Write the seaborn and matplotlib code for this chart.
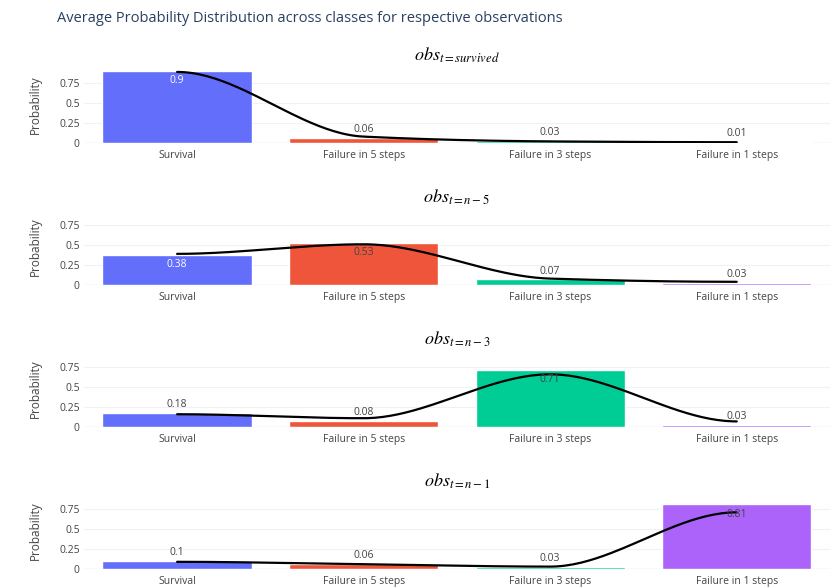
import matplotlib
matplotlib.use("Agg")
import matplotlib.pyplot as plt
import numpy as np
import pandas as pd
import seaborn as sns

# --- data ---
classes = ["Survival", "Failure in 5 steps", "Failure in 3 steps", "Failure in 1 steps"]
panel_titles = [
    r"$obs_{t=survived}$",
    r"$obs_{t=n-5}$",
    r"$obs_{t=n-3}$",
    r"$obs_{t=n-1}$",
]
bars_survived = [0.9, 0.06, 0.03, 0.01]
bars_n5 = [0.38, 0.53, 0.07, 0.03]
bars_n3 = [0.18, 0.08, 0.71, 0.03]
bars_n1 = [0.1, 0.06, 0.03, 0.81]

# black smoothed line sits a bit off the bar tops
line_survived = [0.89, 0.08, 0.02, 0.01]
line_n5 = [0.39, 0.51, 0.08, 0.04]
line_n3 = [0.16, 0.11, 0.66, 0.07]
line_n1 = [0.09, 0.06, 0.03, 0.71]

colors = ["#636efa", "#EF553B", "#00cc96", "#ab63fa"]

sns.set_style("white")
plt.rcParams["font.family"] = ["Open Sans", "DejaVu Sans"]
plt.rcParams["mathtext.fontset"] = "stix"

text_col = "#2a3f5f"
tick_col = "#444444"


def smooth_curve(ys, n=50):
    # monotone hermite (pchip-like slopes, flat ends) -- line shape only
    ys = np.asarray(ys, dtype=float)
    d = np.diff(ys)
    m = np.zeros(len(ys))
    for i in range(1, len(ys) - 1):
        if d[i - 1] * d[i] > 0:
            m[i] = 2 / (1 / d[i - 1] + 1 / d[i])
    t = np.linspace(0, 1, n)
    h00 = 2 * t**3 - 3 * t**2 + 1
    h10 = t**3 - 2 * t**2 + t
    h01 = -2 * t**3 + 3 * t**2
    h11 = t**3 - t**2
    xs_out, ys_out = [], []
    for i in range(len(ys) - 1):
        xs_out.append(i + t)
        ys_out.append(h00 * ys[i] + h10 * m[i] + h01 * ys[i + 1] + h11 * m[i + 1])
    return np.concatenate(xs_out), np.concatenate(ys_out)


fig = plt.figure(figsize=(8.3, 5.88), dpi=100)
fig.text(0.069, 0.969, "Average Probability Distribution across classes for respective observations",
         fontsize=10.5, color=text_col, va="center", ha="left")

all_bars = [bars_survived, bars_n5, bars_n3, bars_n1]
all_lines = [line_survived, line_n5, line_n3, line_n1]
bottoms = [0.7568, 0.5153, 0.2738, 0.0323]

for k in range(4):
    ax = fig.add_axes([0.101, bottoms[k], 0.899, 0.129])
    df = pd.DataFrame({"cls": classes, "p": all_bars[k]})
    sns.barplot(data=df, x="cls", y="p", hue="cls", palette=colors, width=0.8,
                saturation=1, legend=False, ax=ax)

    lx, ly = smooth_curve(all_lines[k])
    sns.lineplot(x=lx, y=ly, color="black", linewidth=1.6, sort=False, ax=ax)

    for i, v in enumerate(all_bars[k]):
        if v > 0.3:
            c = "white" if i == 0 else "#444444"
            ax.annotate(str(v), (i, v), xytext=(0, -3), textcoords="offset points",
                        ha="center", va="top", fontsize=7.5, color=c)
        else:
            ax.annotate(str(v), (i, v), xytext=(0, 2), textcoords="offset points",
                        ha="center", va="bottom", fontsize=7.5, color="#444444")

    ax.set_xlim(-0.5, 3.5)
    ax.set_ylim(0, 0.95)
    ax.set_yticks([0, 0.25, 0.5, 0.75])
    ax.set_yticklabels(["0", "0.25", "0.5", "0.75"])
    ax.yaxis.grid(True, color="#eef1f6", linewidth=0.8)
    ax.set_axisbelow(True)
    ax.axhline(0, color="#e4e8ef", linewidth=1, zorder=0)
    for s in ax.spines.values():
        s.set_visible(False)
    ax.tick_params(axis="both", length=0, labelsize=7.5, labelcolor=tick_col, pad=3)
    ax.tick_params(axis="x", pad=5)
    ax.set_xlabel("")
    ax.set_ylabel("Probability", fontsize=8.5, color=tick_col, labelpad=12)
    ax.set_title(panel_titles[k], fontsize=13, color="black", pad=5)

fig.savefig("out.png", dpi=100)
